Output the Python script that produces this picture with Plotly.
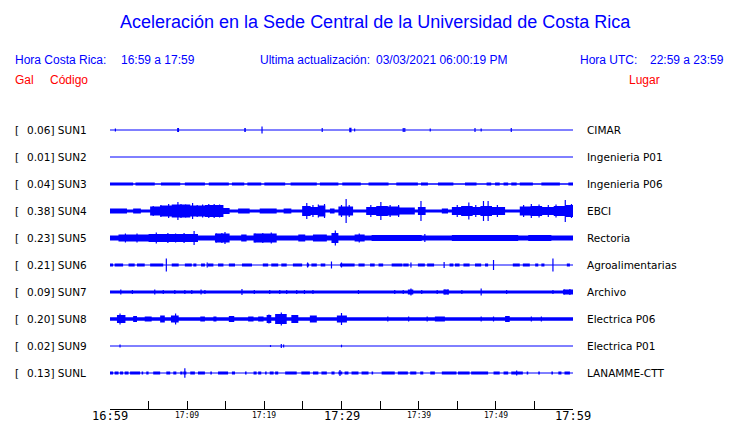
import plotly.graph_objects as go

# ---------------- data ----------------
codes = ["SUN1", "SUN2", "SUN3", "SUN4", "SUN5", "SUN6", "SUN7", "SUN8", "SUN9", "SUNL"]
peaks_gal = ["0.06", "0.01", "0.04", "0.38", "0.23", "0.21", "0.09", "0.20", "0.02", "0.13"]
places = ["CIMAR", "Ingenieria P01", "Ingenieria P06", "EBCI", "Rectoria",
          "Agroalimentarias", "Archivo", "Electrica P06", "Electrica P01", "LANAMME-CTT"]

# background noise level of each trace (display amplitude units)
baseline_amp = [0.5, 0.5, 0.7, 1.5, 2.5, 0.5, 1.5, 1.7, 0.5, 0.5]

# bursts: (start minute, end minute, half amplitude); minutes after 16:59
sun1_bursts = [(8.7, 8.95, 2.0), (17.4, 17.6, 2.0), (31.0, 31.3, 2.3)]
sun2_bursts = []
sun3_bursts = [(0.0, 3.0, 1.5), (3.3, 5.8, 1.5), (6.6, 9.1, 1.5), (9.7, 12.3, 1.5), (12.8, 15.4, 1.5),
               (15.8, 17.4, 1.5), (17.8, 19.6, 1.5), (20.0, 22.7, 1.5), (23.4, 26.8, 1.5), (27.2, 29.6, 1.5),
               (30.1, 32.5, 1.5), (33.5, 36.1, 1.5), (37.1, 39.9, 1.5), (40.3, 41.2, 1.5), (42.5, 44.5, 1.5),
               (46.0, 47.5, 1.5), (48.8, 49.4, 1.5), (49.9, 50.5, 1.5), (51.0, 51.6, 1.5), (52.0, 52.7, 1.5),
               (53.1, 54.8, 1.5), (55.9, 58.3, 1.5), (59.4, 60.0, 1.5)]
sun4_bursts = [(0.0, 2.2, 2.5), (3.0, 4.0, 2.5), (5.2, 6.5, 4.5), (6.5, 8.0, 5.5), (8.0, 10.4, 6.5),
               (10.4, 12.3, 5.5), (12.3, 14.7, 6.0), (14.7, 15.5, 3.0), (16.6, 18.1, 2.5), (19.4, 21.6, 2.5),
               (22.5, 23.5, 2.5), (24.9, 26.0, 5.0), (26.0, 27.0, 4.0), (27.0, 27.9, 5.5), (28.5, 29.1, 2.5),
               (29.6, 31.5, 4.5), (33.2, 34.5, 4.0), (34.5, 36.0, 5.0), (36.0, 37.5, 4.5), (37.5, 39.5, 3.5),
               (39.9, 40.9, 4.0), (43.0, 43.8, 2.5), (44.3, 45.5, 4.0), (45.5, 47.0, 5.0), (47.0, 48.0, 4.0),
               (48.0, 49.5, 5.0), (49.5, 51.2, 4.0), (53.1, 54.5, 4.5), (54.5, 56.0, 5.0), (56.0, 57.5, 4.0),
               (57.5, 59.0, 5.0), (59.0, 60.0, 6.0)]
sun5_bursts = [(1.1, 5.0, 3.5), (5.0, 11.4, 4.0), (13.6, 15.5, 4.5), (17.0, 17.7, 3.5), (18.6, 21.6, 4.5),
               (24.4, 25.3, 3.5), (26.3, 28.1, 3.5), (28.7, 29.6, 5.0), (31.7, 33.0, 3.5), (33.9, 40.4, 3.0),
               (44.3, 52.9, 3.0), (54.2, 57.2, 3.0)]
sun6_bursts = [(0.0, 0.4, 1.5), (0.6, 1.7, 1.5), (2.4, 3.2, 1.5), (3.5, 4.5, 1.5), (5.2, 6.9, 1.5),
               (8.0, 8.9, 1.5), (9.7, 10.6, 1.5), (10.8, 11.2, 1.5), (11.8, 12.3, 1.5), (12.7, 13.4, 1.5),
               (14.0, 14.7, 1.5), (15.4, 16.2, 1.5), (17.1, 18.4, 1.5), (19.8, 20.5, 1.5), (20.9, 21.8, 1.5),
               (22.2, 22.9, 1.5), (23.7, 24.9, 1.5), (25.5, 25.8, 1.5), (26.1, 26.8, 1.5), (27.3, 27.9, 1.5),
               (29.8, 31.7, 1.5), (32.2, 33.0, 1.5), (33.7, 34.3, 1.5), (34.8, 35.4, 1.5), (36.5, 37.9, 1.5),
               (38.0, 38.7, 1.5), (39.9, 40.8, 1.5), (41.1, 42.0, 1.5), (44.0, 44.5, 1.5), (44.7, 45.3, 1.5),
               (45.8, 46.6, 1.5), (47.3, 48.1, 1.5), (48.6, 49.0, 1.5), (52.2, 53.1, 1.5), (53.5, 54.4, 1.5),
               (55.1, 55.5, 1.5), (55.9, 56.3, 1.5), (59.2, 59.6, 1.5)]
sun7_bursts = [(38.6, 39.3, 2.5), (43.2, 43.9, 2.5), (58.7, 60.0, 2.5)]
sun8_bursts = [(0.9, 2.0, 4.0), (3.0, 3.5, 3.0), (4.5, 5.4, 2.5), (6.5, 7.1, 3.5), (7.9, 8.9, 3.5),
               (11.7, 12.3, 2.5), (13.4, 13.8, 2.5), (15.4, 16.1, 3.0), (17.9, 18.6, 2.5), (19.2, 19.9, 2.5),
               (20.3, 20.9, 4.0), (21.4, 22.9, 5.0), (23.5, 24.4, 4.0), (25.9, 26.8, 3.5), (29.4, 30.7, 3.5),
               (42.1, 43.4, 2.5), (51.2, 51.8, 3.0)]
sun9_bursts = []
sunl_bursts = [(0.0, 0.4, 1.5), (0.6, 1.1, 1.5), (1.3, 1.7, 1.5), (1.9, 2.4, 1.5), (2.6, 3.9, 1.5),
               (4.1, 4.3, 1.5), (4.7, 5.0, 1.5), (5.6, 6.5, 1.5), (7.3, 7.8, 1.5), (8.2, 8.6, 1.5),
               (9.1, 9.4, 1.5), (9.5, 9.9, 1.5), (10.4, 11.0, 1.5), (11.4, 12.3, 1.5), (13.0, 13.2, 1.5),
               (14.0, 15.3, 1.5), (15.8, 16.2, 1.5), (17.5, 17.7, 1.5), (18.6, 19.0, 1.5), (19.2, 19.6, 1.5),
               (20.1, 20.3, 1.5), (20.7, 21.2, 1.5), (21.4, 21.8, 1.5), (22.7, 24.2, 1.5), (24.8, 25.9, 1.5),
               (26.3, 27.0, 1.5), (27.4, 28.1, 1.5), (28.7, 29.1, 1.5), (29.6, 30.1, 1.5), (30.4, 30.9, 1.5),
               (31.3, 32.2, 1.5), (32.6, 33.5, 1.5), (33.9, 34.1, 1.5), (35.2, 36.9, 1.5), (37.3, 38.6, 1.5),
               (38.9, 39.7, 1.5), (40.2, 40.6, 1.5), (41.5, 42.1, 1.5), (43.0, 44.9, 1.5), (45.1, 46.6, 1.5),
               (46.8, 49.0, 1.5), (49.7, 50.5, 1.5), (51.0, 51.6, 1.5), (52.0, 53.5, 1.5), (54.0, 54.2, 1.5),
               (55.5, 55.7, 1.5), (57.2, 57.4, 1.5), (58.1, 58.5, 1.5), (58.9, 59.6, 1.5)]

# isolated peaks: (minute, half amplitude)
sun1_spikes = [(0.7, 1.5), (19.7, 3.5), (27.5, 2.0), (31.7, 1.5), (38.0, 2.0), (38.2, 2.0),
               (41.5, 1.5), (47.3, 2.0), (48.1, 1.5), (52.0, 2.0)]
sun2_spikes = []
sun3_spikes = []
sun4_spikes = [(5.6, 5), (6.6, 6), (7.6, 7), (8.8, 9), (9.2, 7), (9.8, 6.5), (10.7, 8), (11.3, 6),
               (12.0, 6.5), (12.8, 7), (13.5, 7), (14.2, 6.5), (25.5, 8), (26.3, 6), (27.0, 6.5),
               (27.8, 7), (30.0, 6), (30.6, 12), (31.0, 6), (33.8, 6), (35.1, 9), (36.3, 6), (37.4, 6),
               (40.3, 10), (45.0, 6), (46.5, 8.5), (47.4, 6), (48.4, 10), (49.0, 10), (50.2, 6),
               (53.6, 6), (54.6, 7), (55.6, 6.5), (56.8, 6), (57.8, 6.5), (59.0, 11), (59.8, 7)]
sun5_spikes = [(2.0, 4.5), (3.5, 4.5), (6.0, 5.5), (7.5, 5), (8.5, 4.5), (9.6, 5), (10.9, 7),
               (13.8, 4.5), (14.5, 5), (14.9, 6), (18.8, 4.5), (19.8, 5), (20.9, 5.5), (29.2, 7.5),
               (32.3, 4.5), (40.8, 4)]
sun6_spikes = [(7.3, 6.5), (12.6, 2.5), (25.6, 2.5), (28.7, 3.5), (30.0, 2.5), (39.0, 2.5),
               (43.3, 3), (49.7, 5), (57.4, 6.5)]
sun7_spikes = [(1.4, 2.5), (2.9, 2), (5.8, 2.5), (6.9, 2), (8.4, 2), (9.7, 2), (10.6, 2), (11.8, 2.5),
               (12.3, 2), (17.1, 3), (18.7, 2), (20.7, 2), (22.0, 2), (22.9, 2), (24.2, 2), (25.2, 2),
               (26.3, 2), (32.2, 2), (36.9, 2), (38.0, 2), (39.0, 3.5), (40.4, 2), (42.4, 2),
               (43.4, 2.5), (43.8, 2.5), (45.6, 2), (48.1, 3.5), (51.4, 2), (57.4, 2), (58.9, 2.5),
               (59.6, 3)]
sun8_spikes = [(1.3, 5.5), (8.5, 5.5), (20.6, 4.5), (22.2, 6.5), (22.6, 5), (30.0, 6), (36.0, 2.5),
               (38.7, 2.5), (41.1, 2.5), (48.1, 2.5), (49.7, 2.5), (54.6, 2.5), (55.9, 2.5)]
sun9_spikes = [(1.3, 1.5), (20.8, 1.0), (22.2, 2.0), (22.5, 1.5), (30.0, 1.3)]
sunl_spikes = [(9.7, 4.7), (29.8, 3.0), (52.7, 2.5)]

bursts = [sun1_bursts, sun2_bursts, sun3_bursts, sun4_bursts, sun5_bursts,
          sun6_bursts, sun7_bursts, sun8_bursts, sun9_bursts, sunl_bursts]
spikes = [sun1_spikes, sun2_spikes, sun3_spikes, sun4_spikes, sun5_spikes,
          sun6_spikes, sun7_spikes, sun8_spikes, sun9_spikes, sunl_spikes]

tick_minutes = list(range(0, 61, 5))
label_minutes = [0, 10, 20, 30, 40, 50, 60]
label_texts = ["16:59", "17:09", "17:19", "17:29", "17:39", "17:49", "17:59"]
major_labels = ["16:59", "17:29", "17:59"]
duration_min = 60

# ---------------- layout geometry ----------------
W, H = 740, 423
L, R, T, B = 110, 573, 110, 409
TRACE0_PX, SPACING_PX = 130, 27
BLUE, RED = "#0000ff", "#ff0000"
SANS = "Liberation Sans, Arial, sans-serif"
DEJA = "DejaVu Sans, sans-serif"
MONO = "DejaVu Sans Mono, monospace"
PAD = 2.5  # annotation inner padding compensation

ytop = (T - TRACE0_PX) / SPACING_PX
ybot = (B - TRACE0_PX) / SPACING_PX
k = 1.0 / SPACING_PX  # amplitude units -> trace-spacing units


def px_x(px):
    return (px - L) / (R - L)


def px_y(py):
    return (B - py) / (B - T)


fig = go.Figure()

for i in range(len(codes)):
    yc = i
    # baseline noise
    fig.add_trace(go.Scatter(x=[0, duration_min], y=[yc, yc], mode="lines",
                             line=dict(color=BLUE, width=max(1.0, 2 * baseline_amp[i])),
                             hoverinfo="skip"))
    # bursts
    if bursts[i]:
        bx, by = [], []
        for (t0, t1, a) in bursts[i]:
            bx += [t0, t0, t1, t1, t0, None]
            by += [yc - a * k, yc + a * k, yc + a * k, yc - a * k, yc - a * k, None]
        fig.add_trace(go.Scatter(x=bx, y=by, mode="lines", fill="toself", fillcolor=BLUE,
                                 line=dict(color=BLUE, width=0), hoverinfo="skip"))
    # spikes
    if spikes[i]:
        sx, sy = [], []
        for (t, a) in spikes[i]:
            sx += [t, t, None]
            sy += [yc - a * k, yc + a * k, None]
        fig.add_trace(go.Scatter(x=sx, y=sy, mode="lines",
                                 line=dict(color=BLUE, width=1.2), hoverinfo="skip"))

annotations = []


def add_text(text, px, py, size, color="black", family=DEJA, xanchor="left"):
    if xanchor == "left":
        px = px - PAD
    annotations.append(dict(text=text, x=px_x(px), y=px_y(py), xref="paper", yref="paper",
                            xanchor=xanchor, yanchor="middle", showarrow=False,
                            font=dict(size=size, color=color, family=family)))


# header
add_text("Aceleración en la Sede Central de la Universidad de Costa Rica", 375, 22, 18, BLUE, SANS, "center")
add_text("Hora Costa Rica:", 15, 60, 12, BLUE, SANS)
add_text("16:59 a 17:59", 121, 60, 12, BLUE, SANS)
add_text("Ultima actualización:", 260, 60, 12, BLUE, SANS)
add_text("03/03/2021 06:00:19 PM", 376, 60, 12, BLUE, SANS)
add_text("Hora UTC:", 580, 60, 12, BLUE, SANS)
add_text("22:59 a 23:59", 650, 60, 12, BLUE, SANS)
add_text("Gal", 15, 80, 12, RED, SANS)
add_text("Código", 50, 80, 12, RED, SANS)
add_text("Lugar", 629, 80, 12, RED, SANS)

# trace labels
for i in range(len(codes)):
    py = TRACE0_PX + SPACING_PX * i
    add_text("[", 15, py, 10.5)
    add_text(f"{peaks_gal[i]}] {codes[i]}", 27.3, py, 10.5)
    add_text(places[i], 587, py, 10.5)

# time labels
for m, txt in zip(label_minutes, label_texts):
    big = txt in major_labels
    annotations.append(dict(text=txt, x=m, y=px_y(416 if big else 415.5), xref="x", yref="paper",
                            xanchor="center", yanchor="middle", showarrow=False,
                            font=dict(size=12 if big else 8, color="black", family=MONO)))

fig.update_layout(
    width=W, height=H,
    margin=dict(l=L, r=W - R, t=T, b=H - B, pad=0),
    paper_bgcolor="white", plot_bgcolor="white",
    showlegend=False,
    annotations=annotations,
    xaxis=dict(range=[0, duration_min], showgrid=False, zeroline=False, showline=True,
               linecolor="black", linewidth=1, ticks="inside", tickvals=tick_minutes,
               ticklen=8, tickcolor="black", tickwidth=1, showticklabels=False, fixedrange=True),
    yaxis=dict(range=[ybot, ytop], visible=False, showgrid=False, zeroline=False, fixedrange=True),
)

fig.write_html("out.html", config={"displayModeBar": False},
               post_script="document.body.style.margin='0px';document.body.style.overflow='hidden';")
